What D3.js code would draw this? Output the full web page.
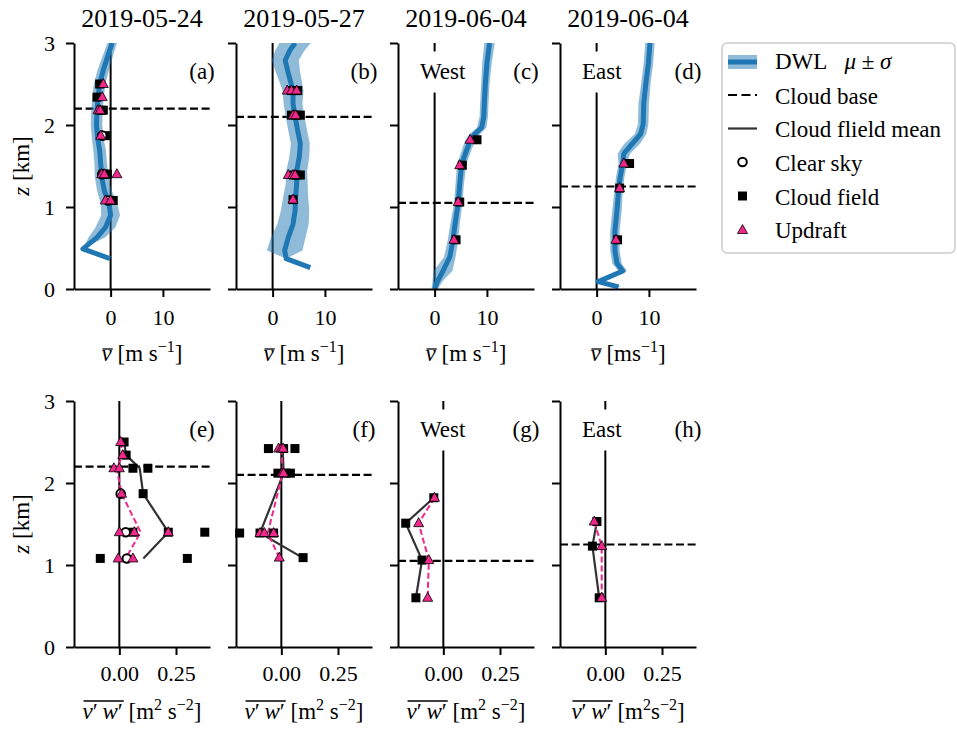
<!DOCTYPE html>
<html><head><meta charset="utf-8">
<script src="https://cdn.jsdelivr.net/npm/d3@7"></script>
<style>
body{margin:0;background:#fff}
svg{display:block}
</style>
</head><body>
<svg id="c" width="957" height="734" style="font-family:'Liberation Serif','Times New Roman',serif"></svg>
<script>
// ---------------- DATA ----------------
const titles = ["2019-05-24", "2019-05-27", "2019-06-04", "2019-06-04"];
const lettersTop = ["(a)", "(b)", "(c)", "(d)"];
const lettersBot = ["(e)", "(f)", "(g)", "(h)"];
const sideLabels = ["", "", "West", "East"];
const cloudBase = [2.2, 2.1, 1.05, 1.25];
const zTicks = [0, 1, 2, 3];
const vTicks = [0, 10];
const wTicks = [0, 0.25];

// DWL mean wind profiles (z [km], v [m/s], sigma)
const dwlZ_a = [3.0, 2.83, 2.67, 2.50, 2.34, 2.18, 2.01, 1.85, 1.69, 1.53, 1.36, 1.20, 1.04, 0.90, 0.75, 0.63, 0.49, 0.37];
const dwlV_a = [0.3, -0.6, -1.4, -2.1, -2.4, -2.6, -2.7, -2.5, -2.1, -1.9, -1.7, -1.2, -0.3, 0.0, -1.0, -2.6, -5.3, -0.1];
const dwlS_a = [0.9, 1.0, 1.1, 1.1, 1.1, 1.1, 1.1, 1.1, 1.2, 1.2, 1.3, 1.4, 1.6, 1.8, 1.9, 1.6, 0.0, 0.0];

const dwlZ_b = [3.0, 2.91, 2.79, 2.63, 2.42, 2.26, 2.10, 1.93, 1.77, 1.61, 1.44, 1.28, 1.12, 0.96, 0.79, 0.63, 0.47, 0.37, 0.26];
const dwlV_b = [4.3, 3.3, 2.4, 3.0, 3.9, 3.9, 4.3, 4.8, 5.3, 5.1, 4.6, 4.6, 4.4, 4.3, 3.9, 3.0, 2.3, 2.6, 7.2];
const dwlS_b = [3.0, 2.8, 2.6, 2.3, 2.0, 1.8, 1.8, 1.8, 1.8, 1.9, 2.0, 2.1, 2.4, 2.7, 3.0, 3.3, 3.4, 0.0, 0.0];

const dwlZ_c = [3.0, 2.75, 2.50, 2.26, 2.10, 1.97, 1.89, 1.81, 1.69, 1.53, 1.28, 1.04, 0.79, 0.59, 0.39, 0.22, 0.10, 0.0];
const dwlV_c = [10.5, 10.0, 9.7, 9.5, 9.4, 9.0, 7.7, 6.8, 6.1, 5.2, 4.8, 4.5, 3.9, 3.5, 2.9, 1.6, 0.6, 0.0];
const dwlS_c = [1.0, 0.9, 0.8, 0.8, 0.8, 0.9, 1.0, 1.0, 0.9, 0.9, 0.8, 0.8, 0.9, 1.0, 1.1, 1.8, 1.0, 0.6];

const dwlZ_d = [3.0, 2.75, 2.50, 2.26, 2.01, 1.89, 1.77, 1.65, 1.53, 1.36, 1.20, 0.96, 0.71, 0.47, 0.31, 0.22, 0.09, 0.025];
const dwlV_d = [10.2, 9.9, 9.4, 9.0, 8.9, 8.4, 6.8, 5.2, 5.0, 4.5, 4.2, 3.9, 3.5, 3.5, 3.9, 5.0, 0.3, 4.2];
const dwlS_d = [0.9, 0.9, 0.9, 1.0, 1.0, 1.1, 1.5, 1.2, 0.8, 0.8, 0.8, 0.9, 0.9, 0.9, 0.9, 0.8, 0.6, 0.5];

// Mean wind of sampled cases: [z km, v m/s]
const cloudV_a = [[2.50,-2.1],[2.34,-2.6],[2.18,-1.8],[2.18,-1.4],[1.87,-1.0],[1.40,-1.4],[1.40,-0.6],[1.40,-1.0],[1.08,0.5],[1.08,-0.2]];
const clearV_a = [[1.87,-1.6],[1.40,-1.6],[1.08,-0.5]];
const updraftV_a = [[2.50,-1.4],[2.34,-1.6],[2.18,-2.4],[2.18,-2.0],[1.87,-1.9],[1.40,-1.7],[1.40,-1.2],[1.40,1.2],[1.08,-1.0],[1.08,0.0]];
const cloudV_b = [[2.42,3.6],[2.42,4.8],[2.42,4.4],[2.12,3.6],[2.12,5.3],[2.12,4.6],[1.39,5.3],[1.39,4.6],[1.39,4.0],[1.09,3.9]];
const clearV_b = [];
const updraftV_b = [[2.42,2.8],[2.42,3.6],[2.42,4.6],[2.12,3.9],[2.12,4.4],[1.39,3.0],[1.39,3.9],[1.39,4.3],[1.09,3.9]];
const cloudV_c = [[1.82,8.1],[1.51,5.3],[1.06,4.8],[0.60,4.1]];
const clearV_c = [];
const updraftV_c = [[1.82,6.8],[1.51,4.8],[1.06,4.5],[0.60,3.7]];
const cloudV_d = [[1.53,6.3],[1.23,4.4],[0.60,4.0]];
const clearV_d = [];
const updraftV_d = [[1.53,5.2],[1.23,4.4],[0.60,3.7]];

// Momentum flux v'w' of sampled cases: [z km, v'w' m2/s2]
const cloudW_e = [[2.50,0.021],[2.34,0.03],[2.18,0.06],[2.18,0.126],[1.87,0.105],[1.40,0.06],[1.40,0.216],[1.40,0.377],[1.08,-0.084],[1.08,0.30]];
const clearW_e = [[1.87,0.006],[1.40,0.028],[1.08,0.033]];
const updraftW_e = [[2.50,0.006],[2.34,0.015],[2.18,-0.024],[2.18,0.0],[1.87,0.01],[1.40,0.0],[1.40,0.066],[1.40,0.216],[1.08,-0.005],[1.08,0.06]];
const cloudMean_e = [[2.50,0.021],[2.34,0.03],[2.18,0.09],[1.87,0.105],[1.40,0.216],[1.08,0.106]];
const updraftMean_e = [[2.50,0.006],[2.34,0.015],[2.18,-0.012],[1.87,0.01],[1.40,0.094],[1.08,0.028]];

const cloudW_f = [[2.42,-0.057],[2.42,0.06],[2.42,0.01],[2.12,-0.015],[2.12,0.04],[2.12,0.02],[1.39,-0.184],[1.39,-0.094],[1.39,-0.034],[1.09,0.096]];
const clearW_f = [];
const updraftW_f = [[2.42,-0.012],[2.42,0.0],[2.42,0.008],[2.12,0.003],[2.12,0.01],[1.39,-0.094],[1.39,-0.075],[1.39,-0.034],[1.09,-0.009]];
const cloudMean_f = [[2.42,0.006],[2.12,0.01],[1.39,-0.094],[1.09,0.093]];
const updraftMean_f = [[2.42,0.0],[2.12,0.006],[1.39,-0.06],[1.09,-0.009]];

const cloudW_g = [[1.82,-0.042],[1.51,-0.166],[1.06,-0.094],[0.60,-0.121]];
const clearW_g = [];
const updraftW_g = [[1.82,-0.039],[1.51,-0.109],[1.06,-0.064],[0.60,-0.069]];
const cloudMean_g = cloudW_g;
const updraftMean_g = updraftW_g;

const cloudW_h = [[1.53,-0.037],[1.23,-0.057],[0.60,-0.027]];
const clearW_h = [];
const updraftW_h = [[1.53,-0.049],[1.23,-0.016],[0.60,-0.016]];
const cloudMean_h = cloudW_h;
const updraftMean_h = updraftW_h;

const legendLabels = ["DWL", "Cloud base", "Cloud flield mean", "Clear sky", "Cloud field", "Updraft"];

// ---------------- LAYOUT ----------------
const FONT = "'Liberation Serif','Times New Roman',serif";
const svg = d3.select("#c");
const PW = 136, PH = 246, LEFT0 = 74, STEP = 162, TOPS = [43, 401];
const FS = 23, TFS = 22;
const BLUE = "#1f77b4", PINK = "#f0288c", GREY = "#333";

const xTop = d3.scaleLinear().domain([-7, 19]).range([0, PW]);
const xBot = d3.scaleLinear().domain([-0.2, 0.4]).range([0, PW]);
const y = d3.scaleLinear().domain([0, 3]).range([PH, 0]);

const topData = [
  {z: dwlZ_a, v: dwlV_a, s: dwlS_a, cloud: cloudV_a, clear: clearV_a, up: updraftV_a},
  {z: dwlZ_b, v: dwlV_b, s: dwlS_b, cloud: cloudV_b, clear: clearV_b, up: updraftV_b},
  {z: dwlZ_c, v: dwlV_c, s: dwlS_c, cloud: cloudV_c, clear: clearV_c, up: updraftV_c},
  {z: dwlZ_d, v: dwlV_d, s: dwlS_d, cloud: cloudV_d, clear: clearV_d, up: updraftV_d}
];
const botData = [
  {cloud: cloudW_e, clear: clearW_e, up: updraftW_e, cm: cloudMean_e, um: updraftMean_e},
  {cloud: cloudW_f, clear: clearW_f, up: updraftW_f, cm: cloudMean_f, um: updraftMean_f},
  {cloud: cloudW_g, clear: clearW_g, up: updraftW_g, cm: cloudMean_g, um: updraftMean_g},
  {cloud: cloudW_h, clear: clearW_h, up: updraftW_h, cm: cloudMean_h, um: updraftMean_h}
];

const triPath = "M0,-5.5L5,3.5L-5,3.5Z";

function txt(parent, size) {
  return parent.append("text").style("font-family", FONT).style("font-size", size + "px").attr("fill", "#000");
}

function drawMarkers(g, x, cloud, clear, up) {
  g.append("g").selectAll("rect").data(cloud).join("rect")
    .attr("x", d => x(d[1]) - 4.5).attr("y", d => y(d[0]) - 4.5)
    .attr("width", 9).attr("height", 9).attr("fill", "#000");
  g.append("g").selectAll("circle").data(clear).join("circle")
    .attr("cx", d => x(d[1])).attr("cy", d => y(d[0])).attr("r", 4.3)
    .attr("fill", "#fff").attr("stroke", "#000").attr("stroke-width", 2);
  g.append("g").selectAll("path").data(up).join("path")
    .attr("d", triPath)
    .attr("transform", d => `translate(${x(d[1])},${y(d[0])})`)
    .attr("fill", PINK).attr("stroke", "#000").attr("stroke-width", 0.8);
}

function styleAxis(sel) {
  sel.attr("font-family", null).attr("font-size", null);
  sel.select(".domain").attr("stroke-width", 2);
  sel.selectAll(".tick line").attr("stroke-width", 2);
  sel.selectAll(".tick text").style("font-family", FONT).style("font-size", TFS + "px");
}

function sideLabel(g, s) {
  if (!s) return;
  const t = txt(g, FS).attr("x", 22).attr("y", 35.5).text(s);
  const bb = t.node().getBBox();
  g.insert("rect", () => t.node())
    .attr("x", bb.x - 10).attr("y", bb.y - 7)
    .attr("width", bb.width + 20).attr("height", bb.height + 16)
    .attr("fill", "#fff");
}

function xLabel(parent, cx, baseY, parts, nOver, barDy) {
  const t = txt(parent, FS).attr("x", cx).attr("y", baseY).attr("text-anchor", "middle");
  let raised = false;
  parts.forEach(p => {
    const ts = t.append("tspan").text(p.t);
    if (p.i) ts.style("font-style", "italic");
    if (p.sup) { ts.style("font-size", "16px").attr("dy", -9); raised = true; }
    else if (raised) { ts.attr("dy", 9); raised = false; }
  });
  const node = t.node();
  const x0 = node.getStartPositionOfChar(0).x;
  const x1 = node.getEndPositionOfChar(nOver - 1).x;
  parent.append("line").attr("x1", x0 + 1).attr("x2", x1 + 1)
    .attr("y1", baseY - barDy).attr("y2", baseY - barDy)
    .attr("stroke", "#000").attr("stroke-width", 1.3);
}

const topUnits = [
  [{t: "v", i: 1}, {t: " [m s"}, {t: "−1", sup: 1}, {t: "]"}],
  [{t: "v", i: 1}, {t: " [m s"}, {t: "−1", sup: 1}, {t: "]"}],
  [{t: "v", i: 1}, {t: " [m s"}, {t: "−1", sup: 1}, {t: "]"}],
  [{t: "v", i: 1}, {t: " [ms"}, {t: "−1", sup: 1}, {t: "]"}]
];
const primeLab = [{t: "v", i: 1}, {t: "′\u2009"}, {t: "w", i: 1}, {t: "′"}];
const botUnits = [
  primeLab.concat([{t: "  [m"}, {t: "2", sup: 1}, {t: " s"}, {t: "−2", sup: 1}, {t: "]"}]),
  primeLab.concat([{t: "  [m"}, {t: "2", sup: 1}, {t: " s"}, {t: "−2", sup: 1}, {t: "]"}]),
  primeLab.concat([{t: "  [m"}, {t: "2", sup: 1}, {t: " s"}, {t: "−2", sup: 1}, {t: "]"}]),
  primeLab.concat([{t: "  [m"}, {t: "2", sup: 1}, {t: "s"}, {t: "−2", sup: 1}, {t: "]"}])
];

const defs = svg.append("defs");
defs.append("clipPath").attr("id", "pclip").append("rect")
  .attr("x", 0).attr("y", 0).attr("width", PW).attr("height", PH);

// ---------------- TOP ROW ----------------
topData.forEach((D, i) => {
  const g = svg.append("g").attr("transform", `translate(${LEFT0 + i * STEP},${TOPS[0]})`);
  const x = xTop;
  txt(g, 26).attr("x", PW / 2).attr("y", 27 - TOPS[0]).attr("text-anchor", "middle").text(titles[i]);
  g.append("line").attr("x1", x(0)).attr("x2", x(0)).attr("y1", 0).attr("y2", PH)
    .attr("stroke", "#000").attr("stroke-width", 2);
  sideLabel(g, sideLabels[i]);
  g.append("line").attr("x1", 0).attr("x2", PW).attr("y1", y(cloudBase[i])).attr("y2", y(cloudBase[i]))
    .attr("stroke", "#000").attr("stroke-width", 2.2).attr("stroke-dasharray", "8,3.6");
  const pts = D.z.map((z, k) => ({z: z, v: D.v[k], s: D.s[k]}));
  const cg = g.append("g").attr("clip-path", "url(#pclip)");
  cg.append("path").datum(pts)
    .attr("d", d3.area().y(d => y(d.z)).x0(d => x(d.v - d.s)).x1(d => x(d.v + d.s)))
    .attr("fill", BLUE).attr("fill-opacity", 0.5);
  cg.append("path").datum(pts)
    .attr("d", d3.line().x(d => x(d.v)).y(d => y(d.z)))
    .attr("fill", "none").attr("stroke", BLUE).attr("stroke-width", 5).attr("stroke-linejoin", "round");
  drawMarkers(g, x, D.cloud, D.clear, D.up);
  g.append("g").attr("transform", `translate(0,${PH})`)
    .call(d3.axisBottom(x).tickValues(vTicks).tickSize(8).tickSizeOuter(0).tickPadding(12).tickFormat(d3.format("d")))
    .call(styleAxis);
  g.append("g")
    .call(d3.axisLeft(y).tickValues(zTicks).tickSize(8).tickSizeOuter(0).tickPadding(11)
      .tickFormat(i === 0 ? d3.format("d") : () => ""))
    .call(styleAxis);
  txt(g, FS).attr("x", PW - 8).attr("y", 36).attr("text-anchor", "middle").text(lettersTop[i]);
  xLabel(g, PW / 2, 361 - TOPS[0], topUnits[i], 1, 12);
});

// ---------------- BOTTOM ROW ----------------
botData.forEach((D, i) => {
  const g = svg.append("g").attr("transform", `translate(${LEFT0 + i * STEP},${TOPS[1]})`);
  const x = xBot;
  g.append("line").attr("x1", x(0)).attr("x2", x(0)).attr("y1", 0).attr("y2", PH)
    .attr("stroke", "#000").attr("stroke-width", 2);
  sideLabel(g, sideLabels[i]);
  g.append("line").attr("x1", 0).attr("x2", PW).attr("y1", y(cloudBase[i])).attr("y2", y(cloudBase[i]))
    .attr("stroke", "#000").attr("stroke-width", 2.2).attr("stroke-dasharray", "8,3.6");
  const ln = d3.line().x(d => x(d[1])).y(d => y(d[0]));
  g.append("path").datum(D.cm).attr("d", ln).attr("fill", "none")
    .attr("stroke", GREY).attr("stroke-width", 2.2);
  g.append("path").datum(D.um).attr("d", ln).attr("fill", "none")
    .attr("stroke", PINK).attr("stroke-width", 2).attr("stroke-dasharray", "6,3");
  drawMarkers(g, x, D.cloud, D.clear, D.up);
  g.append("g").attr("transform", `translate(0,${PH})`)
    .call(d3.axisBottom(x).tickValues(wTicks).tickSize(8).tickSizeOuter(0).tickPadding(10).tickFormat(d3.format(".2f")))
    .call(styleAxis);
  g.append("g")
    .call(d3.axisLeft(y).tickValues(zTicks).tickSize(8).tickSizeOuter(0).tickPadding(11)
      .tickFormat(i === 0 ? d3.format("d") : () => ""))
    .call(styleAxis);
  txt(g, FS).attr("x", PW - 8).attr("y", 36).attr("text-anchor", "middle").text(lettersBot[i]);
  xLabel(g, PW / 2, 719 - TOPS[1], botUnits[i], 5, 18);
});

// y labels
[TOPS[0], TOPS[1]].forEach(t => {
  const yl = txt(svg, FS).attr("transform", `translate(29,${t + PH / 2}) rotate(-90)`)
    .attr("text-anchor", "middle");
  yl.append("tspan").style("font-style", "italic").text("z");
  yl.append("tspan").text(" [km]");
});

// ---------------- LEGEND ----------------
const lg = svg.append("g");
lg.append("rect").attr("x", 722).attr("y", 43).attr("width", 233).attr("height", 210).attr("rx", 5)
  .attr("fill", "#fff").attr("stroke", "#cccccc").attr("stroke-width", 1.5);
const hx0 = 728, hx1 = 757, hxc = 742.5, tx = 775;
const rowC = [62, 95, 128.5, 162, 196, 230];
const rowB = [68.5, 103.5, 137, 170.5, 204.5, 238];
lg.append("rect").attr("x", hx0).attr("y", rowC[0] - 7).attr("width", hx1 - hx0).attr("height", 14)
  .attr("fill", BLUE).attr("fill-opacity", 0.5);
lg.append("line").attr("x1", hx0).attr("x2", hx1).attr("y1", rowC[0]).attr("y2", rowC[0])
  .attr("stroke", BLUE).attr("stroke-width", 5);
lg.append("line").attr("x1", hx0).attr("x2", hx1).attr("y1", rowC[1]).attr("y2", rowC[1])
  .attr("stroke", "#000").attr("stroke-width", 2.2).attr("stroke-dasharray", "9,4.5");
lg.append("line").attr("x1", hx0).attr("x2", hx1).attr("y1", rowC[2]).attr("y2", rowC[2])
  .attr("stroke", GREY).attr("stroke-width", 2.2);
lg.append("circle").attr("cx", hxc).attr("cy", rowC[3]).attr("r", 4.3)
  .attr("fill", "#fff").attr("stroke", "#000").attr("stroke-width", 2);
lg.append("rect").attr("x", hxc - 4.5).attr("y", rowC[4] - 4.5).attr("width", 9).attr("height", 9).attr("fill", "#000");
lg.append("path").attr("d", triPath).attr("transform", `translate(${hxc},${rowC[5]})`)
  .attr("fill", PINK).attr("stroke", "#000").attr("stroke-width", 0.8);
legendLabels.forEach((l, k) => {
  const t = txt(lg, FS).attr("x", tx).attr("y", rowB[k]);
  t.append("tspan").text(l);
  if (k === 0) {
    t.append("tspan").attr("dx", 17).style("font-style", "italic").text("μ");
    t.append("tspan").text(" ± ");
    t.append("tspan").style("font-style", "italic").text("σ");
  }
});
</script>
</body></html>
